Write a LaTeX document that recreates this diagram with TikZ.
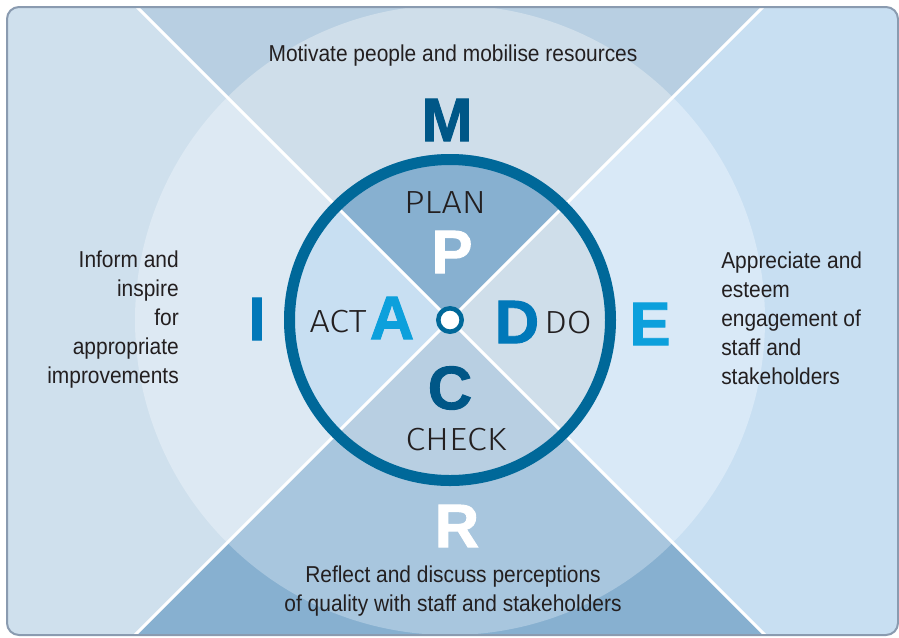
\documentclass[tikz,border=0pt]{standalone}
\usepackage{fontspec}
\setmainfont{Liberation Sans}
\newfontfamily\narrowfont{Liberation Sans}[FakeStretch=0.91]
\newfontfamily\heavyfont{Liberation Sans}[UprightFont={* Bold},FakeBold=1.5]
\newfontfamily\thinfont{Fira Sans Light}[FakeStretch=1.12]
\usepackage{tikz}

\definecolor{ringblue}{RGB}{0,104,153}
\definecolor{mdark}{RGB}{0,87,135}
\definecolor{dmid}{RGB}{0,120,185}
\definecolor{acyan}{RGB}{12,160,220}
\definecolor{textgray}{RGB}{35,31,32}
\definecolor{framegray}{RGB}{138,155,176}
\definecolor{topout}{RGB}{184,207,226}
\definecolor{topin}{RGB}{207,222,234}
\definecolor{leftout}{RGB}{207,224,237}
\definecolor{leftin}{RGB}{221,233,243}
\definecolor{rightout}{RGB}{200,223,242}
\definecolor{rightin}{RGB}{217,233,247}
\definecolor{botout}{RGB}{135,176,208}
\definecolor{botin}{RGB}{168,198,222}

\begin{document}
\begin{tikzpicture}[x=0.75pt, y=-0.75pt,
    bigletter/.style={font=\heavyfont\fontsize{46}{46}\selectfont, inner sep=0pt},
    phase/.style={font=\thinfont\fontsize{24}{24}\selectfont, text=textgray, inner sep=0pt, anchor=base},
    caption/.style={font=\narrowfont\fontsize{17.25}{21.75}\selectfont, text=textgray, inner sep=0pt},
    divider/.style={white, line width=2.25pt}]
    \useasboundingbox (0,0) rectangle (899,637);
    \coordinate (c) at (450,320);

    % Hintergrund in vier Dreiecken
    \begin{scope}
        \clip[rounded corners=9pt] (7,7) rectangle (898,635);
        \fill[leftout] (0,0) rectangle (899,637);
        \fill[topout] (c) -- +(-700,-700) -- +(700,-700) -- cycle;
        \fill[rightout] (c) -- +(700,-700) -- +(700,700) -- cycle;
        \fill[botout] (c) -- +(700,700) -- +(-700,700) -- cycle;

        % grosser Kreis
        \fill[topin] (c) -- +(225:315) arc[start angle=225, end angle=315, radius=315] -- cycle;
        \fill[rightin] (c) -- +(-45:315) arc[start angle=-45, end angle=45, radius=315] -- cycle;
        \fill[botin] (c) -- +(45:315) arc[start angle=45, end angle=135, radius=315] -- cycle;
        \fill[leftin] (c) -- +(135:315) arc[start angle=135, end angle=225, radius=315] -- cycle;

        % PDCA Kreis
        \fill[botout] (c) -- +(225:166) arc[start angle=225, end angle=315, radius=166] -- cycle;
        \fill[topin] (c) -- +(-45:166) arc[start angle=-45, end angle=45, radius=166] -- cycle;
        \fill[topout] (c) -- +(45:166) arc[start angle=45, end angle=135, radius=166] -- cycle;
        \fill[rightout] (c) -- +(135:166) arc[start angle=135, end angle=225, radius=166] -- cycle;

        % Diagonalen
        \draw[divider] (c) +(-700,-700) -- +(700,700);
        \draw[divider] (c) +(700,-700) -- +(-700,700);
    \end{scope}

    \draw[ringblue, line width=8.25pt] (c) circle[radius=160.5];
    \draw[ringblue, fill=white, line width=3.4pt] (c) circle[radius=11.7];
    \draw[framegray, line width=1.5pt, rounded corners=9pt] (7,7) rectangle (898,635);

    % MIRE aussen
    \node[caption, anchor=base] (motivate) at (453,61) {Motivate people and mobilise resources};
    \node[bigletter, text=mdark] (M) at (447,120) {M};
    \node[caption, align=right, anchor=east] (inform) at (179,320) {Inform and\\inspire\\for\\appropriate\\improvements};
    \node[bigletter, text=dmid] (I) at (257,319) {I};
    \node[bigletter, text=acyan] (E) at (650,324) {E};
    \node[caption, align=left, anchor=west] (appreciate) at (721,318) {Appreciate and\\esteem\\engagement of\\staff and\\stakeholders};
    \node[bigletter, text=white] (R) at (457,526) {R};
    \node[caption, align=center] (reflect) at (453,591) {Reflect and discuss perceptions\\of quality with staff and stakeholders};

    % PDCA innen
    \node[bigletter, text=white] (P) at (452,252) {P};
    \node[bigletter, text=acyan] (A) at (392,318) {A};
    \node[bigletter, text=dmid] (D) at (517,322) {D};
    \node[bigletter, text=mdark] (C) at (450,388) {C};
    \node[phase] (plan) at (445,213) {PLAN};
    \node[phase] (act) at (338,332) {ACT};
    \node[phase] (do) at (568,333) {DO};
    \node[phase] (check) at (456,450) {CHECK};
\end{tikzpicture}
\end{document}
